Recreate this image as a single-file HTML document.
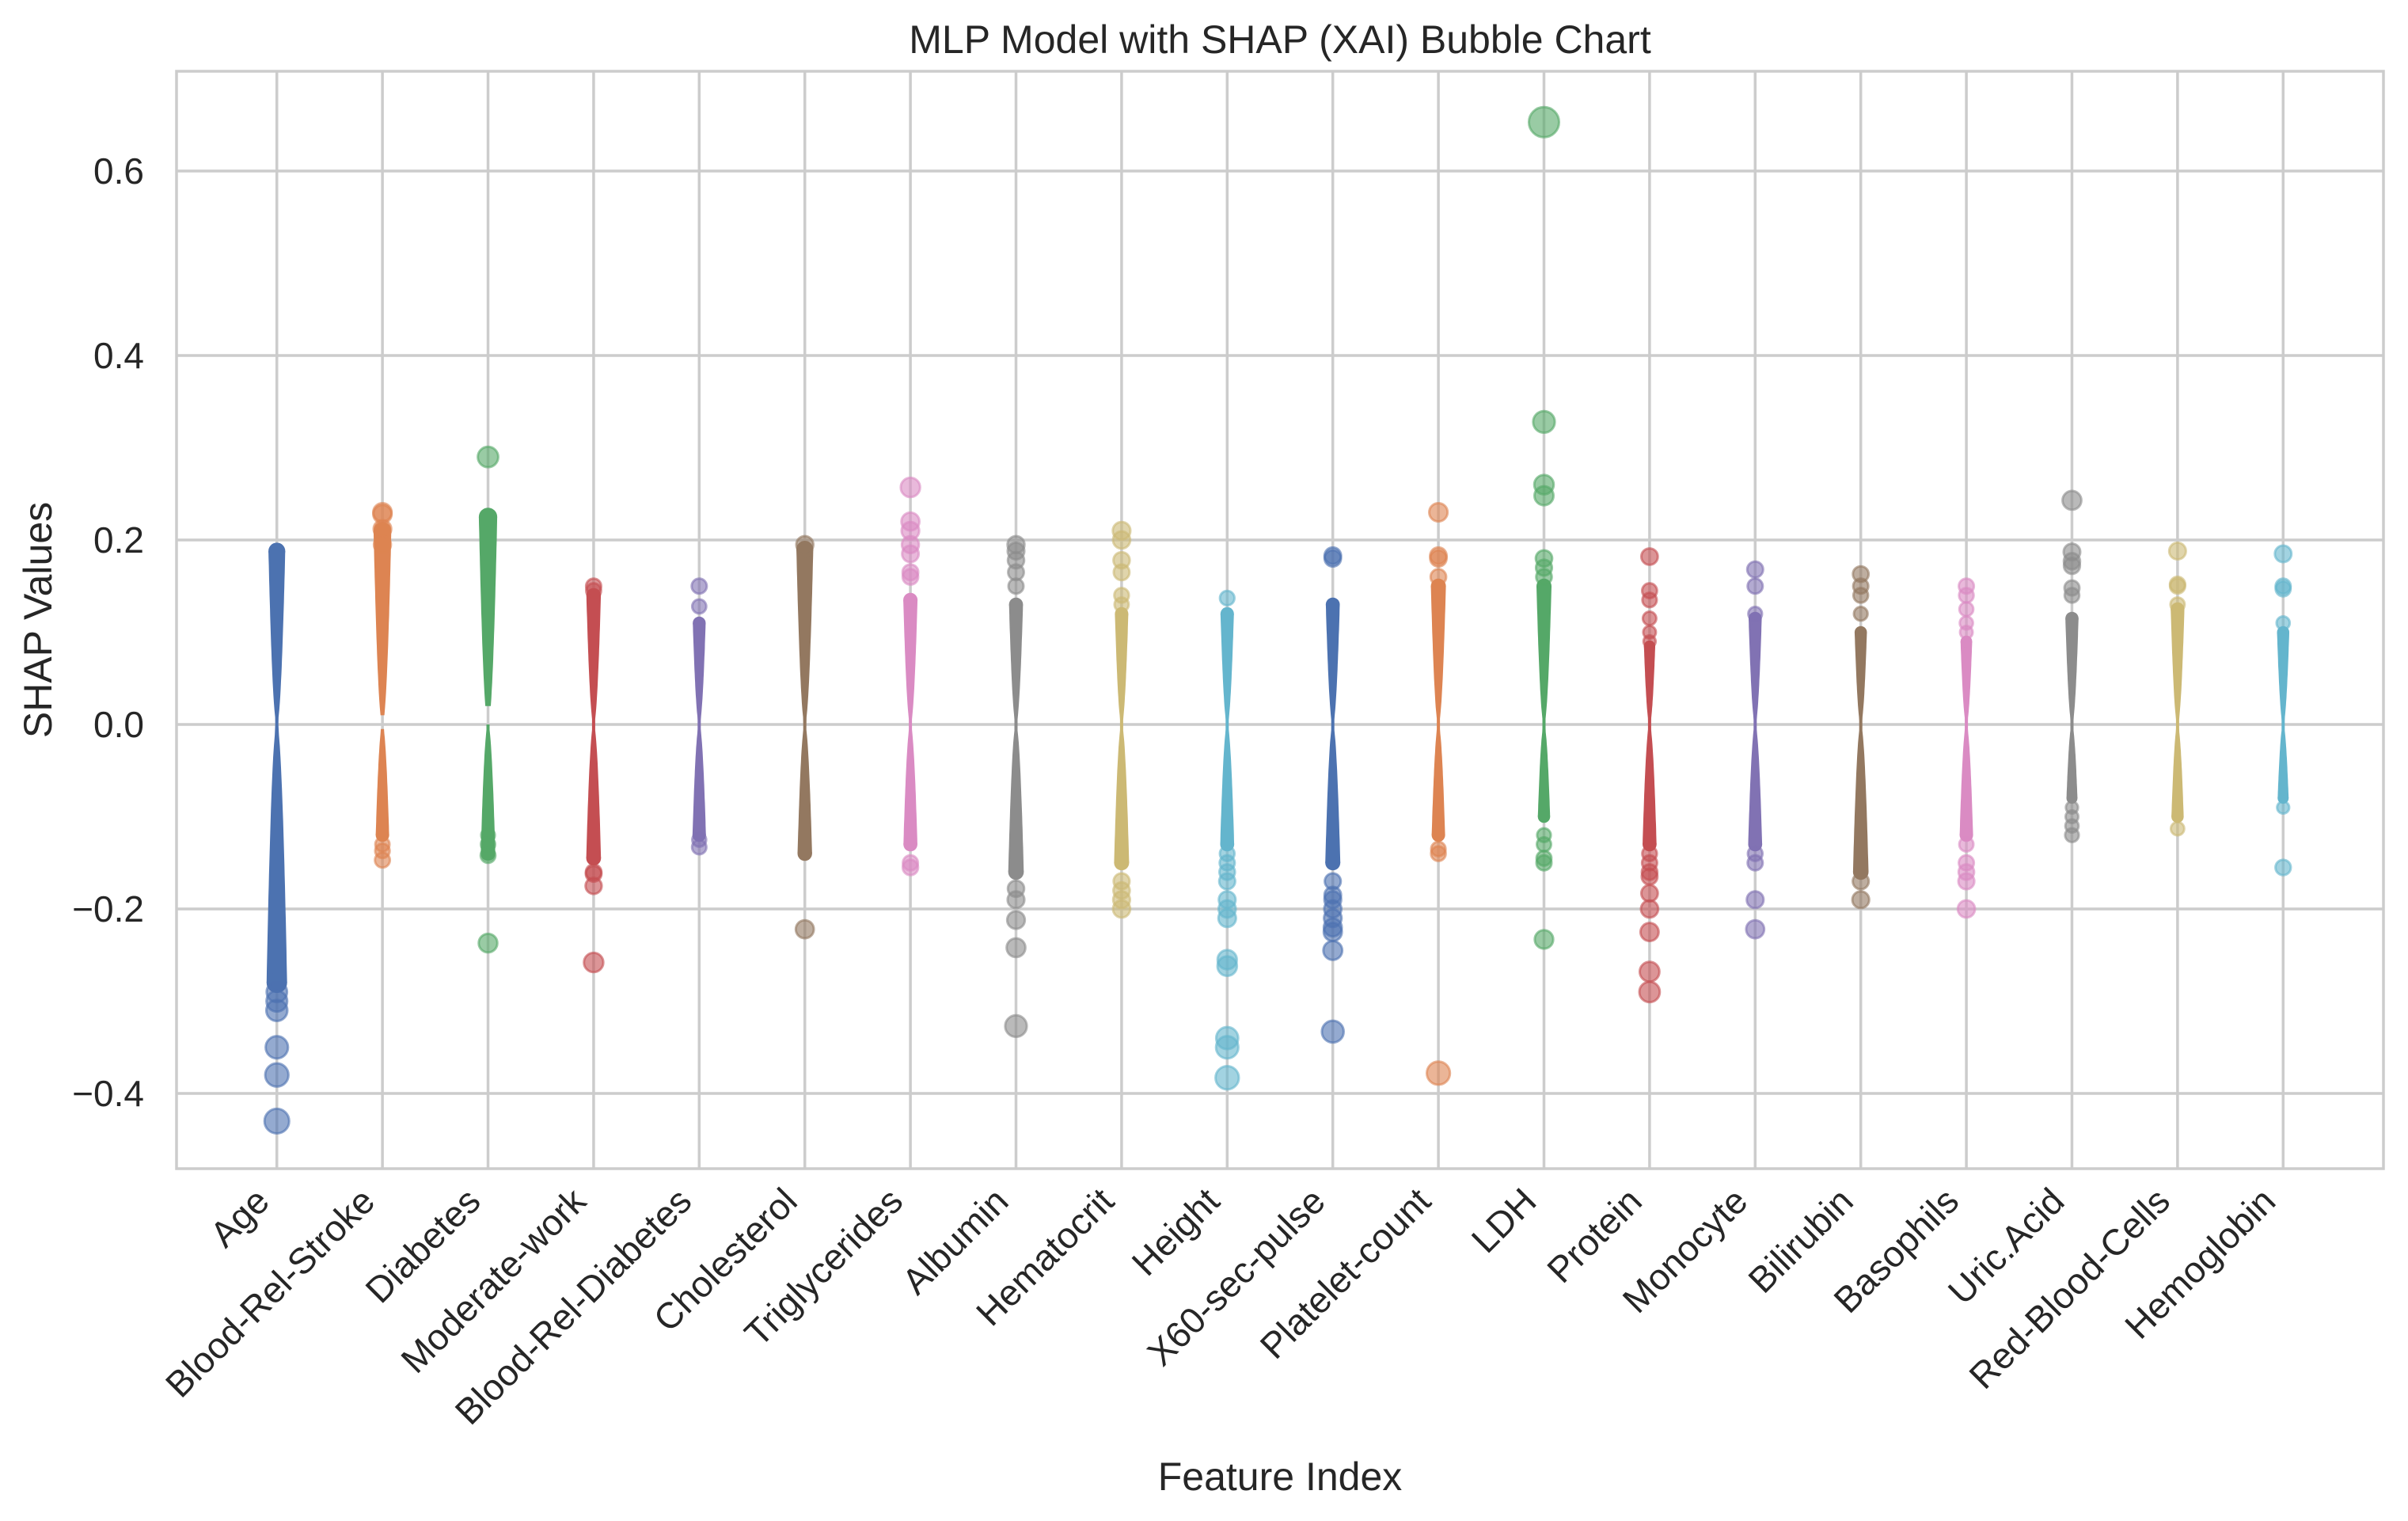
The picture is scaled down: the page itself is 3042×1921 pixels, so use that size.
<!DOCTYPE html>
<html><head><meta charset="utf-8"><style>
html,body{margin:0;padding:0;background:#fff;}
svg{display:block;font-family:"Liberation Sans",Arial,sans-serif;}
</style></head><body>
<svg id="chart" width="3042" height="1921" viewBox="0 0 3042 1921" xmlns="http://www.w3.org/2000/svg">
<rect x="0" y="0" width="3042" height="1921" fill="#fff"/>
<g id="grid"></g>
<g id="marks"></g>
<rect x="223" y="90" width="2788" height="1386" fill="none" stroke="#cccccc" stroke-width="3.5"/>
<g id="ticks"></g>
<text x="1617" y="67" font-size="50" text-anchor="middle" fill="#262626">MLP Model with SHAP (XAI) Bubble Chart</text>
<text x="1617" y="1882" font-size="50" text-anchor="middle" fill="#262626">Feature Index</text>
<text x="0" y="0" font-size="50" text-anchor="middle" fill="#262626" transform="translate(65,783) rotate(-90)">SHAP Values</text>
</svg>
<script>
const categories = ["Age","Blood-Rel-Stroke","Diabetes","Moderate-work","Blood-Rel-Diabetes","Cholesterol","Triglycerides","Albumin","Hematocrit","Height","X60-sec-pulse","Platelet-count","LDH","Protein","Monocyte","Bilirubin","Basophils","Uric.Acid","Red-Blood-Cells","Hemoglobin"];
// dense band extent per feature (upper end, lower end)
const bandHi = [0.188,0.21,0.225,0.14,0.11,0.19,0.135,0.13,0.12,0.12,0.13,0.15,0.15,0.085,0.115,0.1,0.09,0.115,0.125,0.1];
const bandLo = [-0.28,-0.12,-0.14,-0.145,-0.12,-0.14,-0.13,-0.16,-0.15,-0.13,-0.15,-0.12,-0.1,-0.13,-0.13,-0.16,-0.12,-0.08,-0.1,-0.08];
// gap around zero inside the band (smallest positive, largest negative)
const bandGapPos = [0,0.01,0.02,0,0,0,0,0,0,0,0,0,0,0,0,0,0,0,0,0];
const bandGapNeg = [0,-0.005,0,0,0,0,0,0,0,0,0,0,0,0,0,0,0,0,0,0];
// individual visible points outside the dense band
const outliers = [
 [-0.29,-0.30,-0.31,-0.35,-0.38,-0.43],
 [0.23,0.228,0.212,0.195,-0.13,-0.137,-0.147],
 [0.29,-0.12,-0.13,-0.142,-0.237],
 [0.15,0.145,-0.16,-0.162,-0.175,-0.258],
 [0.15,0.128,-0.125,-0.133],
 [0.195,-0.222],
 [0.257,0.22,0.21,0.195,0.185,0.165,0.16,-0.15,-0.155],
 [0.195,0.188,0.178,0.165,0.15,-0.178,-0.19,-0.212,-0.242,-0.327],
 [0.21,0.2,0.178,0.165,0.14,0.13,-0.17,-0.18,-0.19,-0.2],
 [0.137,-0.14,-0.15,-0.16,-0.17,-0.19,-0.2,-0.21,-0.255,-0.262,-0.34,-0.35,-0.383],
 [0.183,0.18,-0.17,-0.185,-0.19,-0.2,-0.21,-0.22,-0.225,-0.245,-0.333],
 [0.23,0.183,0.18,0.16,-0.135,-0.14,-0.378],
 [0.653,0.328,0.26,0.248,0.18,0.17,0.16,-0.12,-0.13,-0.145,-0.15,-0.233],
 [0.182,0.145,0.135,0.115,0.1,0.09,-0.14,-0.15,-0.16,-0.165,-0.183,-0.2,-0.225,-0.268,-0.29],
 [0.168,0.15,0.12,-0.14,-0.15,-0.19,-0.222],
 [0.163,0.15,0.14,0.12,-0.17,-0.19],
 [0.15,0.14,0.125,0.11,0.1,-0.13,-0.15,-0.16,-0.17,-0.2],
 [0.243,0.187,0.177,0.172,0.148,0.14,-0.09,-0.1,-0.11,-0.12],
 [0.188,0.152,0.15,0.13,-0.113],
 [0.185,0.15,0.147,0.11,-0.09,-0.155]
];
const yTicks = [-0.4,-0.2,0.0,0.2,0.4,0.6];
const yTickLabels = ["\u22120.4","\u22120.2","0.0","0.2","0.4","0.6"];
const palette = ["#4c72b0","#dd8452","#55a868","#c44e52","#8172b3","#937860","#da8bc3","#8c8c8c","#ccb974","#64b5cd"];

const NS = "http://www.w3.org/2000/svg";
const X0 = 223, X1 = 3011, Y0 = 90, Y1 = 1476;
const xMin = -0.95, xMax = 19.95;
const xs = i => X0 + (i - xMin) / (xMax - xMin) * (X1 - X0);
const ys = v => 915 - v * 1165;
const rad = v => Math.sqrt(10 + 540 * Math.abs(v));
const halfW = v => Math.max(2, Math.sqrt(600 * Math.abs(v)));
function mk(tag, parent){ const e = document.createElementNS(NS, tag); parent.appendChild(e); return e; }

const grid = document.getElementById('grid');
const marks = document.getElementById('marks');
const ticks = document.getElementById('ticks');

yTicks.forEach((t, k) => {
  const l = mk('line', grid);
  
  
  l.setAttribute('x1', X0); l.setAttribute('x2', X1);
  l.setAttribute('y1', ys(t)); l.setAttribute('y2', ys(t));
  l.setAttribute('stroke', '#cccccc'); l.setAttribute('stroke-width', '3.5');
  const tx = mk('text', ticks);
  
  
  tx.setAttribute('x', 182); tx.setAttribute('y', ys(t) + 16);
  tx.setAttribute('font-size', '46'); tx.setAttribute('text-anchor', 'end'); tx.setAttribute('fill', '#262626');
  tx.textContent = yTickLabels[k];
});

categories.forEach((c, i) => {
  const x = xs(i);
  const l = mk('line', grid);
  
  
  l.setAttribute('x1', x); l.setAttribute('x2', x);
  l.setAttribute('y1', Y0); l.setAttribute('y2', Y1);
  l.setAttribute('stroke', '#cccccc'); l.setAttribute('stroke-width', '3.5');

  const tx = mk('text', ticks);
  
  
  tx.setAttribute('x', 0); tx.setAttribute('y', 0);
  tx.setAttribute('font-size', '46'); tx.setAttribute('text-anchor', 'end'); tx.setAttribute('fill', '#262626');
  tx.setAttribute('transform', 'translate(' + (x - 7) + ',1520) rotate(-45)');
  tx.textContent = c;

  const col = palette[i % palette.length];
  const halves = [[bandGapPos[i], bandHi[i]], [bandGapNeg[i], bandLo[i]]];
  halves.forEach(h => {
    const a = h[0], b = h[1];
    if (Math.abs(b) <= Math.abs(a)) return;
    const n = 24, left = [], right = [];
    for (let k = 0; k <= n; k++) {
      const v = a + (b - a) * k / n;
      const w = halfW(v);
      left.push((x - w).toFixed(1) + ',' + ys(v).toFixed(1));
      right.unshift((x + w).toFixed(1) + ',' + ys(v).toFixed(1));
    }
    const p = mk('polygon', marks);
    
    
    p.setAttribute('points', left.concat(right).join(' '));
    p.setAttribute('fill', col);
    const cap = mk('circle', marks);
    
    
    cap.setAttribute('cx', x); cap.setAttribute('cy', ys(b)); cap.setAttribute('r', halfW(b));
    cap.setAttribute('fill', col);
  });
  outliers[i].forEach(v => {
    const ci = mk('circle', marks);
    
    
    ci.setAttribute('cx', x); ci.setAttribute('cy', ys(v)); ci.setAttribute('r', rad(v));
    ci.setAttribute('fill', col); ci.setAttribute('fill-opacity', '0.6');
    ci.setAttribute('stroke', col); ci.setAttribute('stroke-opacity', '0.6'); ci.setAttribute('stroke-width', '3');
  });
});
</script>
</body></html>
